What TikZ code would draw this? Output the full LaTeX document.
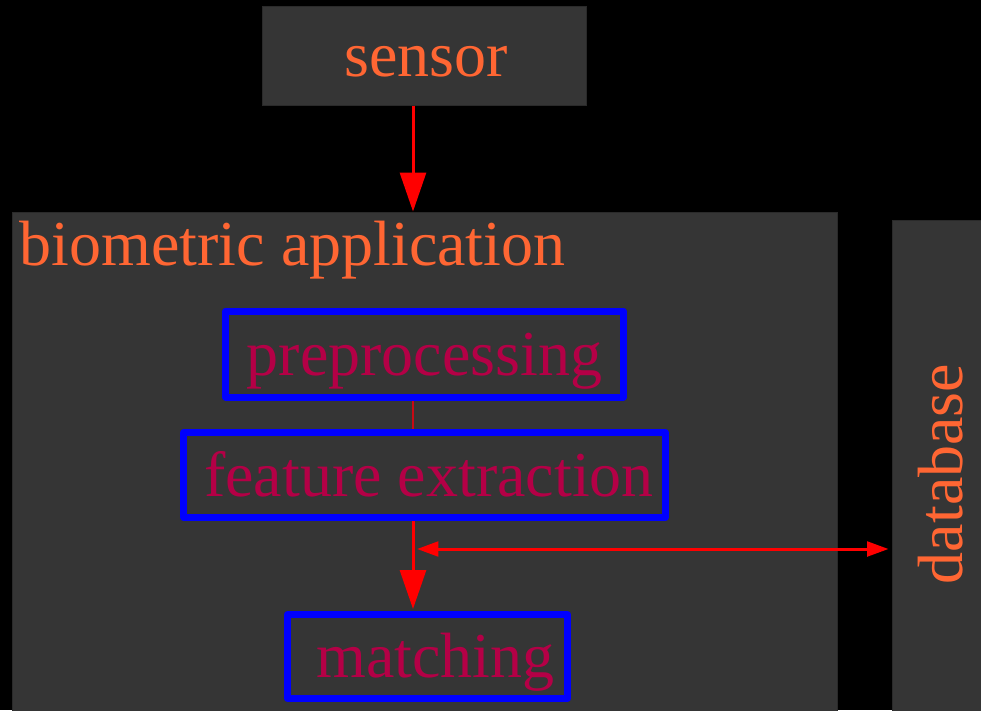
\documentclass[tikz,border=0pt]{standalone}
\usepackage{fontspec}
\setmainfont{Liberation Serif}
\usetikzlibrary{arrows.meta,fit}
\definecolor{boxgray}{RGB}{53,53,53}
\definecolor{boxedge}{RGB}{42,42,42}
\definecolor{lblorange}{RGB}{255,102,51}
\definecolor{lblcrimson}{RGB}{180,0,70}
\definecolor{thinred}{RGB}{200,10,20}
\tikzset{
  graybox/.style={fill=boxgray, draw=boxedge, line width=0.75pt, inner sep=0pt},
  bluebox/.style={draw=blue, line width=5.25pt, line join=round, inner sep=0pt},
  outerlbl/.style={text=lblorange, font=\fontsize{48}{58}\selectfont, inner sep=0pt, anchor=base},
  innerlbl/.style={text=lblcrimson, font=\fontsize{48}{58}\selectfont, inner sep=0pt, anchor=base},
  bigarrow/.style={draw=red, line width=2.25pt, -{Triangle[length=29.25pt,width=19.5pt]}},
  dblarrow/.style={draw=red, line width=2.25pt, {Triangle[length=16pt,width=11pt]}-{Triangle[length=16pt,width=11pt]}},
  thinline/.style={draw=thinred, line width=1.5pt}
}
\begin{document}
\begin{tikzpicture}[x=0.75pt,y=-0.75pt]
\useasboundingbox (0,0) rectangle (981,710);
\fill[black] (0,0) rectangle (981,710);
% gray containers
\node[graybox, fit={(262,7) (586,105)}] (sensor) {};
\node[graybox, fit={(12,212) (837,716)}] (app) {};
\node[graybox, fit={(892,220) (986,716)}] (db) {};
% blue boxes
\node[bluebox, fit={(225.5,311) (623.5,397)}] (pre) {};
\node[bluebox, fit={(183.5,432.5) (665.5,517.5)}] (feat) {};
\node[bluebox, fit={(287.5,614.5) (567.5,698.5)}] (match) {};
% labels
\node[outerlbl] (sensorlbl) at (426,77) {sensor};
\node[outerlbl] (applbl) at (292.5,265) {biometric application};
\node[outerlbl, rotate=90] (dblbl) at (962,474) {database};
\node[innerlbl] (prelbl) at (424.5,375) {preprocessing};
\node[innerlbl] (featlbl) at (429,496) {feature extraction};
\node[innerlbl] (matchlbl) at (435.5,677) {matching};
% connectors
\coordinate (ax) at (413,0);
\coordinate (dl) at (417,549);
\draw[bigarrow] (sensor.south -| ax) -- (app.north -| ax);
\draw[thinline] (pre.south -| ax) -- (feat.north -| ax);
\draw[bigarrow] (feat.south -| ax) -- ([yshift=1.5pt]match.north -| ax);
\draw[dblarrow] (dl) -- ([xshift=-2.25pt]db.west |- dl);
\end{tikzpicture}
\end{document}
